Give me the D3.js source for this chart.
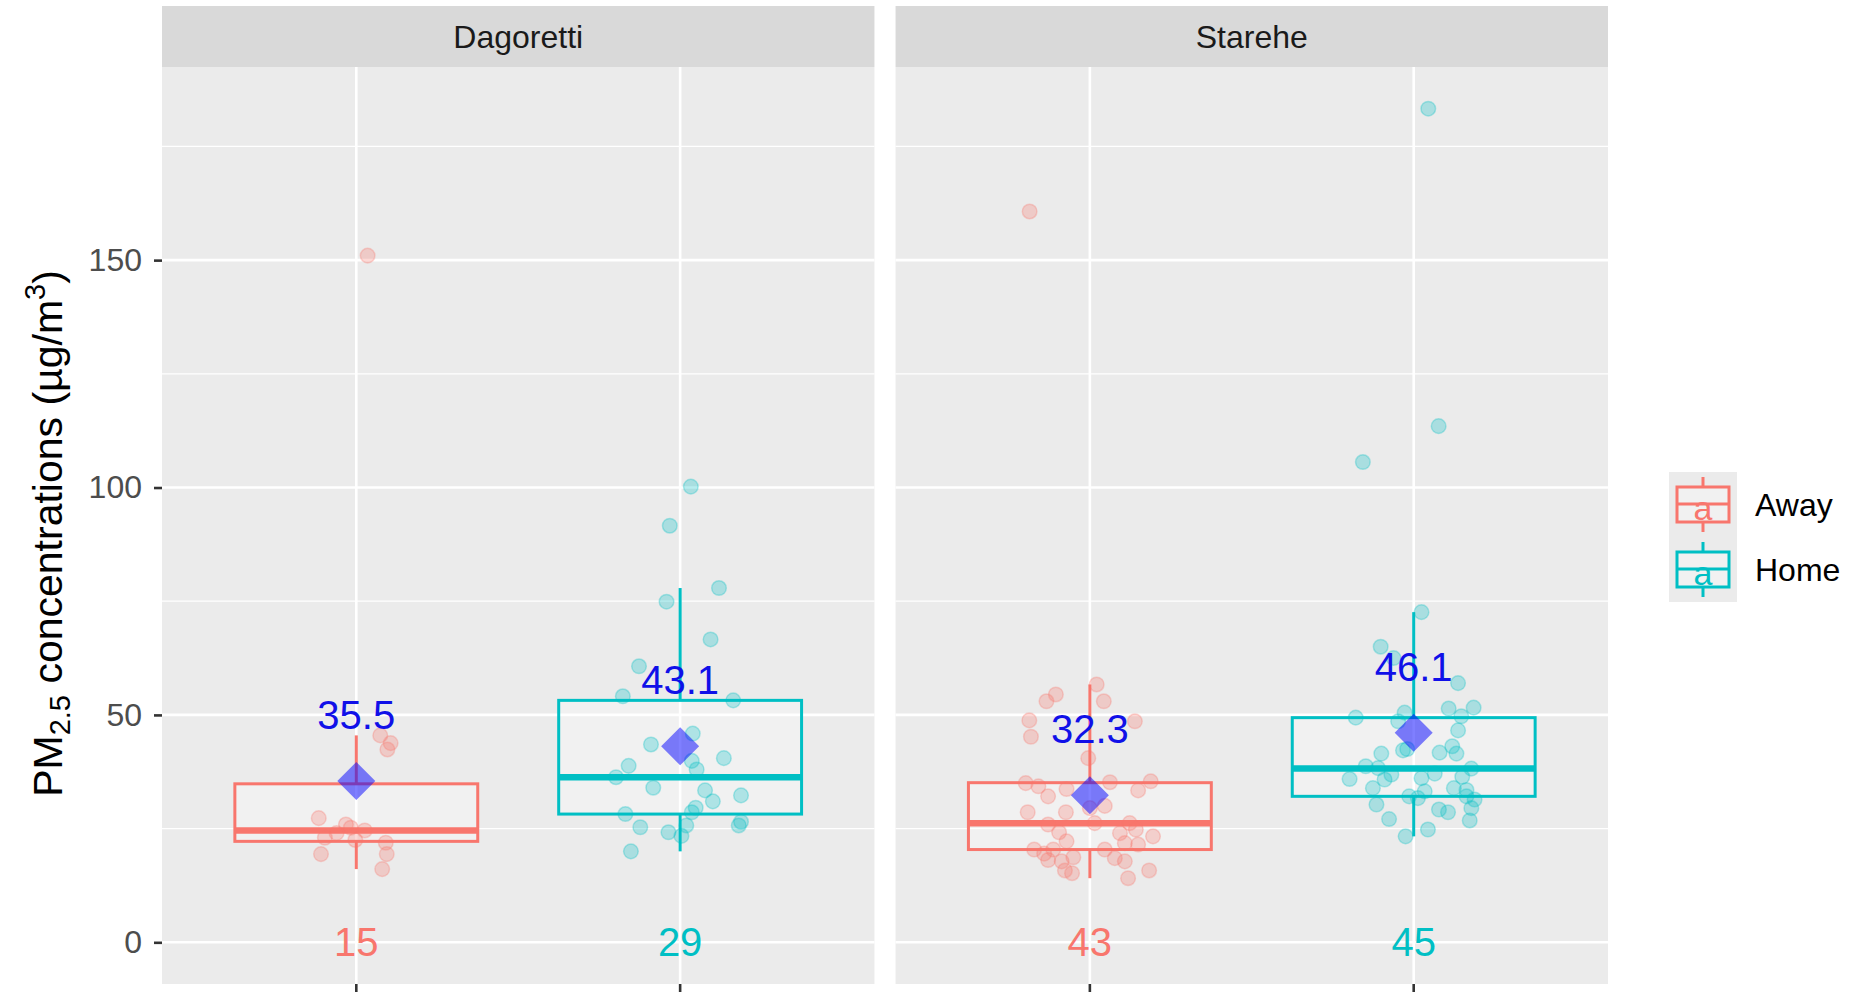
<!DOCTYPE html>
<html>
<head>
<meta charset="utf-8">
<script src="https://cdn.jsdelivr.net/npm/d3@7"></script>
<style>
  html, body { margin: 0; padding: 0; background: #ffffff; }
  svg { display: block; }
  text { font-family: "Liberation Sans", Arial, Helvetica, sans-serif; }
</style>
</head>
<body>
<svg id="chart" width="1854" height="997"></svg>
<script>
// Facets and groups
const sites = ["Dagoretti", "Starehe"];
const groups = ["Away", "Home"];
const groupColors = ["#F8766D", "#00BFC4"];

// PM2.5 samples (µg/m3) with their horizontal jitter offsets (category units)
const dagorettiAway = [151.0, 45.5, 43.8, 42.4, 27.3, 25.9, 25.2, 24.6, 24.0, 23.0, 22.5, 21.9, 19.4, 19.4, 16.1];
const dagorettiAwayJitter = [0.035, 0.074, 0.106, 0.096, -0.116, -0.032, -0.017, 0.026, -0.061, -0.097, -0.003, 0.091, -0.109, 0.094, 0.08];

const dagorettiHome = [100.2, 91.6, 77.9, 74.9, 66.6, 60.7, 54.1, 53.2, 45.9, 43.5, 40.5, 39.9, 38.8, 38.0, 36.3,
  34.0, 33.4, 32.3, 31.0, 29.6, 28.6, 28.2, 26.5, 25.7, 25.7, 25.3, 24.2, 23.4, 20.0];
const dagorettiHomeJitter = [0.033, -0.032, 0.12, -0.042, 0.094, -0.127, -0.177, 0.164, 0.039, -0.09, 0.135, 0.036, -0.159, 0.051, -0.198,
  -0.083, 0.077, 0.188, 0.101, 0.048, 0.036, -0.169, 0.188, 0.181, 0.019, -0.123, -0.036, 0.004, -0.152];

const stareheAway = [160.7, 56.7, 54.5, 53.0, 53.0, 48.8, 48.6, 45.2, 40.5, 35.0, 34.3, 35.4, 35.2, 33.7, 32.1,
  33.4, 30.0, 28.6, 28.6, 25.9, 24.2, 26.2, 26.2, 24.0, 24.8, 23.3, 21.8, 21.5, 20.4, 19.5,
  20.4, 20.4, 18.1, 17.8, 18.7, 18.5, 17.8, 15.8, 15.2, 14.1, 15.8, 22.2, 29.5];
const stareheAwayJitter = [-0.186, 0.021, -0.105, -0.134, 0.043, -0.187, 0.139, -0.182, -0.005, -0.198, -0.159, 0.188, 0.062, -0.072, -0.129,
  0.149, 0.046, -0.192, -0.074, -0.129, -0.095, 0.015, 0.123, 0.093, 0.142, 0.195, 0.108, 0.149, -0.172, -0.141,
  -0.113, 0.046, -0.129, -0.087, -0.051, 0.077, 0.108, -0.077, -0.055, 0.118, 0.183, -0.072, 0.0];

const stareheHome = [183.3, 113.5, 105.6, 72.6, 65.0, 62.5, 57.0, 51.4, 51.6, 49.4, 50.5, 49.7, 48.6, 46.6, 43.1,
  41.5, 42.2, 41.5, 41.7, 38.7, 38.3, 35.9, 35.8, 36.9, 36.1, 37.1, 36.4, 38.2, 33.9, 33.2,
  33.9, 32.1, 31.7, 32.1, 31.4, 30.3, 29.2, 28.6, 29.5, 26.8, 27.1, 24.8, 23.3, 33.5, 42.5];
const stareheHomeJitter = [0.045, 0.077, -0.157, 0.024, -0.102, -0.062, 0.137, 0.108, 0.185, -0.179, -0.028, 0.147, -0.048, 0.137, 0.119,
  0.132, -0.033, -0.1, 0.08, -0.148, -0.11, -0.198, -0.09, -0.069, 0.024, 0.065, 0.15, 0.178, -0.126, 0.034,
  0.124, -0.014, 0.013, 0.163, 0.188, -0.115, 0.078, 0.106, 0.178, 0.173, -0.076, 0.044, -0.025, 0.163, -0.02];

const yTicks = [0, 50, 100, 150];
const yMinorTicks = [25, 75, 125, 175];

const series = [
  { site: "Dagoretti", group: "Away", values: dagorettiAway, jitter: dagorettiAwayJitter },
  { site: "Dagoretti", group: "Home", values: dagorettiHome, jitter: dagorettiHomeJitter },
  { site: "Starehe", group: "Away", values: stareheAway, jitter: stareheAwayJitter },
  { site: "Starehe", group: "Home", values: stareheHome, jitter: stareheHomeJitter }
];

// Box statistics (Tukey, quantile type 7)
series.forEach(s => {
  const v = s.values.slice().sort(d3.ascending);
  const q1 = d3.quantile(v, 0.25), med = d3.quantile(v, 0.5), q3 = d3.quantile(v, 0.75);
  const iqr = q3 - q1;
  s.q1 = q1; s.med = med; s.q3 = q3;
  s.lo = d3.min(v.filter(x => x >= q1 - 1.5 * iqr));
  s.hi = d3.max(v.filter(x => x <= q3 + 1.5 * iqr));
  s.mean = d3.mean(v);
  s.n = v.length;
});

// Layout
const svg = d3.select("#chart");
const panelTop = 67, panelBottom = 984, stripTop = 6;
const panelX = d3.scaleBand().domain(sites).range([162, 1608]).paddingInner(0.0288);
const panelW = panelX.bandwidth();

const yMax = d3.max(series, s => d3.max(s.values));
const yMin = 0;
const pad = (yMax - yMin) * 0.05;
const y = d3.scaleLinear().domain([yMin - pad, yMax + pad]).range([panelBottom, panelTop]);

const x = d3.scalePoint().domain(groups).range([0, panelW]).padding(0.6);
const step = x.step();
const boxW = 0.75 * step;
const color = d3.scaleOrdinal().domain(groups).range(groupColors);

sites.forEach(site => {
  const g = svg.append("g").attr("transform", `translate(${panelX(site)},0)`);

  // panel background and strip
  g.append("rect").attr("x", 0).attr("y", panelTop).attr("width", panelW).attr("height", panelBottom - panelTop).attr("fill", "#EBEBEB");
  g.append("rect").attr("x", 0).attr("y", stripTop).attr("width", panelW).attr("height", panelTop - stripTop).attr("fill", "#D9D9D9");
  g.append("text").attr("x", panelW / 2).attr("y", (stripTop + panelTop) / 2).attr("dy", "0.35em")
    .attr("text-anchor", "middle").attr("font-size", 32).attr("fill", "#1A1A1A").text(site);

  // grid
  g.selectAll(".minor").data(yMinorTicks).join("line")
    .attr("x1", 0).attr("x2", panelW).attr("y1", d => y(d)).attr("y2", d => y(d))
    .attr("stroke", "#FFFFFF").attr("stroke-width", 1.2);
  g.selectAll(".major").data(yTicks).join("line")
    .attr("x1", 0).attr("x2", panelW).attr("y1", d => y(d)).attr("y2", d => y(d))
    .attr("stroke", "#FFFFFF").attr("stroke-width", 2.6);
  g.selectAll(".vmajor").data(groups).join("line")
    .attr("x1", d => x(d)).attr("x2", d => x(d)).attr("y1", panelTop).attr("y2", panelBottom)
    .attr("stroke", "#FFFFFF").attr("stroke-width", 2.6);

  // x axis ticks (no labels)
  g.selectAll(".xt").data(groups).join("line")
    .attr("x1", d => x(d)).attr("x2", d => x(d)).attr("y1", panelBottom).attr("y2", panelBottom + 8)
    .attr("stroke", "#333333").attr("stroke-width", 2.6);

  const rows = series.filter(s => s.site === site);

  // boxplots
  rows.forEach(s => {
    const cx = x(s.group), c = color(s.group);
    const b = g.append("g");
    b.append("line").attr("x1", cx).attr("x2", cx).attr("y1", y(s.q3)).attr("y2", y(s.hi)).attr("stroke", c).attr("stroke-width", 3);
    b.append("line").attr("x1", cx).attr("x2", cx).attr("y1", y(s.q1)).attr("y2", y(s.lo)).attr("stroke", c).attr("stroke-width", 3);
    b.append("rect").attr("x", cx - boxW / 2).attr("width", boxW)
      .attr("y", y(s.q3)).attr("height", y(s.q1) - y(s.q3))
      .attr("fill", "rgba(255,255,255,0.3)").attr("stroke", c).attr("stroke-width", 3);
    b.append("line").attr("x1", cx - boxW / 2).attr("x2", cx + boxW / 2).attr("y1", y(s.med)).attr("y2", y(s.med))
      .attr("stroke", c).attr("stroke-width", 6.5);
  });

  // jittered observations
  rows.forEach(s => {
    const cx = x(s.group), c = color(s.group);
    g.append("g").selectAll("circle").data(s.values.map((v, i) => ({ v, dx: s.jitter[i] }))).join("circle")
      .attr("cx", d => cx + d.dx * step).attr("cy", d => y(d.v)).attr("r", 7.3)
      .attr("fill", c).attr("fill-opacity", 0.28)
      .attr("stroke", c).attr("stroke-opacity", 0.3).attr("stroke-width", 1.5);
  });

  // mean markers and labels
  rows.forEach(s => {
    const cx = x(s.group), cy = y(s.mean);
    g.append("path").attr("d", d3.symbol(d3.symbolSquare, 2 * 19 * 19)())
      .attr("transform", `translate(${cx},${cy}) rotate(45)`)
      .attr("fill", "#0000FF").attr("fill-opacity", 0.5);
    g.append("text").attr("x", cx).attr("y", cy - 66).attr("dy", "0.35em")
      .attr("text-anchor", "middle").attr("font-size", 40).attr("fill", "#1010E8")
      .text(d3.format(".1f")(s.mean));
    g.append("text").attr("x", cx).attr("y", y(0)).attr("dy", "0.35em")
      .attr("text-anchor", "middle").attr("font-size", 40).attr("fill", color(s.group))
      .text(s.n);
  });
});

// y axis
const yAxis = svg.append("g").attr("transform", `translate(${panelX(sites[0])},0)`)
  .call(d3.axisLeft(y).tickValues(yTicks).tickSize(8).tickPadding(12).tickFormat(d3.format("d")));
yAxis.select(".domain").remove();
yAxis.selectAll(".tick line").attr("stroke", "#333333").attr("stroke-width", 2.6);
yAxis.selectAll(".tick text").attr("font-size", 32).attr("fill", "#4D4D4D")
  .attr("font-family", "'Liberation Sans', Arial, Helvetica, sans-serif");

// y axis title
const yTitle = svg.append("text")
  .attr("transform", `translate(62,${(panelTop + panelBottom) / 2 + 8}) rotate(-90)`)
  .attr("text-anchor", "middle").attr("font-size", 41).attr("fill", "#000000");
yTitle.append("tspan").text("PM");
yTitle.append("tspan").attr("font-size", 29).attr("dy", 8).text("2.5");
yTitle.append("tspan").attr("dy", -8).text(" concentrations (µg/m");
yTitle.append("tspan").attr("font-size", 29).attr("dy", -17).text("3");
yTitle.append("tspan").attr("dy", 17).text(")");

// legend
const legend = svg.append("g").attr("transform", "translate(1669,472)");
const keyW = 68, keyH = 65;
groups.forEach((grp, i) => {
  const k = legend.append("g").attr("transform", `translate(0,${i * keyH})`);
  const c = color(grp);
  k.append("rect").attr("width", keyW).attr("height", keyH).attr("fill", "#EBEBEB");
  k.append("line").attr("x1", keyW / 2).attr("x2", keyW / 2).attr("y1", 5).attr("y2", 15).attr("stroke", c).attr("stroke-width", 3);
  k.append("line").attr("x1", keyW / 2).attr("x2", keyW / 2).attr("y1", 50).attr("y2", 60).attr("stroke", c).attr("stroke-width", 3);
  k.append("rect").attr("x", 8).attr("y", 15).attr("width", keyW - 16).attr("height", 35)
    .attr("fill", "rgba(255,255,255,0.3)").attr("stroke", c).attr("stroke-width", 3);
  k.append("line").attr("x1", 8).attr("x2", keyW - 8).attr("y1", 32).attr("y2", 32).attr("stroke", c).attr("stroke-width", 3);
  k.append("text").attr("x", keyW / 2).attr("y", keyH / 2 + 4).attr("dy", "0.35em").attr("text-anchor", "middle")
    .attr("font-size", 34).attr("fill", c).text("a");
  legend.append("text").attr("x", 86).attr("y", i * keyH + keyH / 2).attr("dy", "0.35em")
    .attr("font-size", 32).attr("fill", "#000000").text(grp);
});
</script>
</body>
</html>
